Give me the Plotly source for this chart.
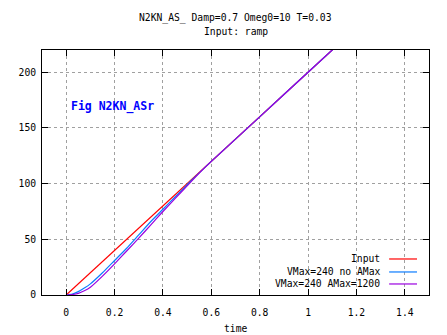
import plotly.graph_objects as go

# Ramp response of the N2KN_AS_ servo model
time = [0, 0.025, 0.05, 0.075, 0.1, 0.15, 0.2, 0.25, 0.3, 0.35, 0.4, 0.45, 0.5, 0.55, 0.6, 0.8, 1.0, 1.2]
ramp_input = [0, 5, 10, 15, 20, 30, 40, 50, 60, 70, 80, 90, 100, 110, 120, 160, 200, 240]
vmax_no_amax = [0, 0.8, 3, 6.2, 10, 20, 31, 42, 54, 66, 77, 88, 99, 109.7, 120, 160, 200, 240]
vmax_amax1200 = [0, 0.4, 1.5, 3.8, 7, 17, 28, 39.5, 51, 63, 75, 86.5, 98, 109.5, 120, 160, 200, 240]

series_names = ["Input", "VMax=240 no AMax", "VMax=240 AMax=1200"]
series_colors = ["#ff0000", "#0a7cff", "#9a00e0"]
series_values = [ramp_input, vmax_no_amax, vmax_amax1200]

x_ticks = [0, 0.2, 0.4, 0.6, 0.8, 1.0, 1.2, 1.4]
y_ticks = [0, 50, 100, 150, 200]

MONO = "DejaVu Sans Mono"
fig = go.Figure()

for name, color, vals in zip(series_names, series_colors, series_values):
    fig.add_trace(go.Scatter(
        x=time, y=vals, mode="lines", name=name,
        line=dict(color=color, width=1.2,
                  shape="linear" if name == "Input" else "spline", smoothing=0.6),
        showlegend=False, hoverinfo="skip",
    ))

# gnuplot-style key: right-aligned text with a line sample to its right
key_rows = [0.147, 0.094, 0.045]
for name, color, yk in zip(series_names, series_colors, key_rows):
    fig.add_annotation(xref="paper", yref="paper", x=0.879, y=yk, text=name,
                       showarrow=False, xanchor="right", yanchor="middle",
                       font=dict(family=MONO, size=9.7, color="black"))
    fig.add_shape(type="line", xref="paper", yref="paper", x0=0.897, x1=0.969,
                  y0=yk, y1=yk, line=dict(color=color, width=1.2))

fig.add_annotation(x=0.01, y=169, text="<b>Fig N2KN_ASr</b>", showarrow=False,
                   xanchor="left", yanchor="middle",
                   font=dict(family=MONO, size=11.5, color="#0000ff"))

fig.add_annotation(xref="paper", yref="paper", x=0.5, y=1, yshift=32,
                   text="N2KN_AS_ Damp=0.7 Omeg0=10 T=0.03", showarrow=False,
                   xanchor="center", yanchor="middle",
                   font=dict(family=MONO, size=9.7, color="black"))
fig.add_annotation(xref="paper", yref="paper", x=0.5, y=1, yshift=18.5,
                   text="Input: ramp", showarrow=False,
                   xanchor="center", yanchor="middle",
                   font=dict(family=MONO, size=9.7, color="black"))
fig.add_annotation(xref="paper", yref="paper", x=0.5, y=0, yshift=-33,
                   text="time", showarrow=False,
                   xanchor="center", yanchor="middle",
                   font=dict(family=MONO, size=9.7, color="black"))

axis_common = dict(
    showline=True, linecolor="black", linewidth=1, mirror="ticks",
    ticks="inside", ticklen=6, tickcolor="black", tickwidth=1,
    showgrid=True, gridcolor="#a0a0a0", griddash="3px,3px", gridwidth=1,
    zeroline=False, automargin=False,
    tickfont=dict(family=MONO, size=9.7, color="black"),
)

fig.update_xaxes(range=[-0.1, 1.5], tickvals=x_ticks,
                 ticktext=[f"{v:g}" for v in x_ticks], ticklabelstandoff=8,
                 **axis_common)
fig.update_yaxes(range=[0, 220], tickvals=y_ticks, ticklabelstandoff=3,
                 ticktext=[str(v) for v in y_ticks], **axis_common)

fig.update_layout(
    width=447, height=335,
    margin=dict(l=42, r=18, t=50, b=40),
    paper_bgcolor="white", plot_bgcolor="white",
    showlegend=False,
)

fig.write_html("out.html", config={"displayModeBar": False})
